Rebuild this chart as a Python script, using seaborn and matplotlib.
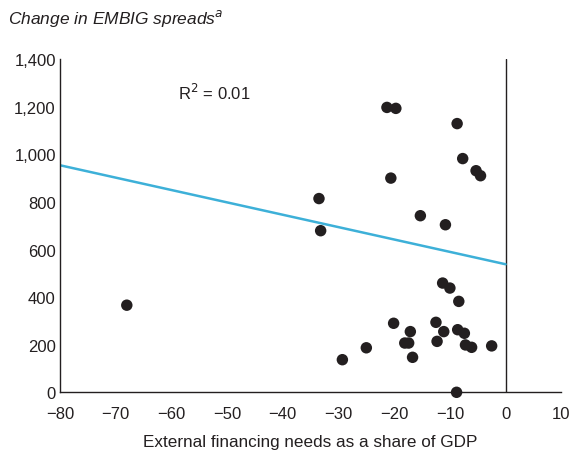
import numpy as np
import pandas as pd
import matplotlib
matplotlib.use("Agg")
import matplotlib.pyplot as plt
import seaborn as sns

# External financing needs (% of GDP) vs change in EMBIG spreads (bp)
financing_needs = [-68.0, -33.5, -33.2, -29.3, -25.0, -21.3, -19.7, -20.6, -20.1, -18.1,
                   -17.4, -17.1, -16.7, -15.3, -12.5, -12.3, -11.3, -11.1, -10.8, -10.0,
                   -8.7, -8.4, -8.6, -8.8, -7.7, -7.4, -7.2, -6.1, -5.3, -4.5, -2.5]
spread_change = [366, 814, 679, 137, 187, 1197, 1193, 900, 290, 207,
                 207, 255, 147, 742, 294, 214, 459, 255, 704, 438,
                 1129, 382, 263, 0, 982, 248, 199, 189, 931, 910, 195]

# fitted line as drawn in the source
fit_intercept = 538
fit_slope = -5.2
fit_range = [-80, 0]

x_ticks = list(range(-80, 11, 10))
y_ticks = list(range(0, 1401, 200))

df = pd.DataFrame({"x": financing_needs, "y": spread_change})
fit_x = np.array(fit_range, dtype=float)
fit_df = pd.DataFrame({"x": fit_x, "y": fit_intercept + fit_slope * fit_x})

sns.set_style("white")
plt.rcParams["font.family"] = ["Liberation Sans", "DejaVu Sans"]

fig = plt.figure(figsize=(5.71, 4.56), dpi=100)
ax = fig.add_axes([0.105, 0.1375, 0.878, 0.7307])

sns.lineplot(data=fit_df, x="x", y="y", color="#3DB0D8", linewidth=1.8, ax=ax, zorder=2)
sns.scatterplot(data=df, x="x", y="y", color="#231F20", s=68, edgecolor="none",
                ax=ax, zorder=3, clip_on=False)

ax.axvline(0, color="#231F20", linewidth=1.0, zorder=1)

ax.set_xlim(-80, 10)
ax.set_ylim(0, 1400)
ax.set_xticks(x_ticks)
ax.set_yticks(y_ticks)
ax.set_yticklabels([f"{v:,}" for v in y_ticks])
ax.set_xticklabels([f"{v}".replace("-", "\u2212") for v in x_ticks])

for s in ["top", "right"]:
    ax.spines[s].set_visible(False)
for s in ["left", "bottom"]:
    ax.spines[s].set_color("#231F20")
    ax.spines[s].set_linewidth(1.0)

ax.tick_params(axis="x", direction="inout", length=10, width=1.0, color="#231F20",
               labelsize=12, pad=5, labelcolor="#231F20")
ax.tick_params(axis="y", direction="in", length=7, width=1.0, color="#231F20",
               labelsize=12, pad=3, labelcolor="#231F20")

ax.set_xlabel("External financing needs as a share of GDP", fontsize=12.3, color="#231F20", labelpad=9)
ax.set_ylabel("")

ax.text(-58.8, 1262, "R$^2$ = 0.01", fontsize=12, va="center", ha="left", color="#231F20")

fig.text(0.014, 0.96, "Change in EMBIG spreads$^{\\it a}$", fontsize=12.5, style="italic",
         va="center", ha="left", color="#231F20")

fig.savefig("out.png", dpi=100)
